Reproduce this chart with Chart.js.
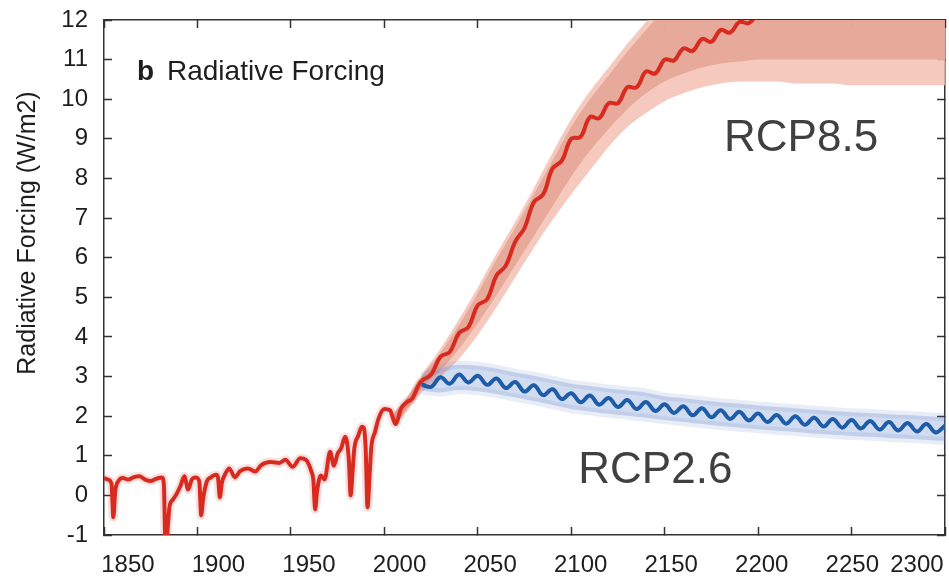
<!DOCTYPE html>
<html>
<head>
<meta charset="utf-8">
<title>Radiative Forcing</title>
<script src="https://cdn.jsdelivr.net/npm/chart.js@4/dist/chart.umd.min.js"></script>
<style>
  html, body { margin: 0; padding: 0; background: #fff; }
  canvas { display: block; }
</style>
</head>
<body>
<canvas id="forcing" width="949" height="580"></canvas>
<script>
// historical forcing, W/m2
var histYears = [1850, 1852, 1854, 1855, 1856, 1858, 1860, 1863, 1866, 1869, 1872, 1875, 1878, 1881, 1882, 1883, 1884, 1885, 1887, 1889,
  1891, 1893, 1895, 1897, 1899, 1901, 1902, 1903, 1905, 1907, 1910, 1911, 1912, 1913, 1915, 1917, 1920, 1923, 1927, 1931,
  1934, 1939, 1944, 1947, 1951, 1955, 1958, 1961, 1962, 1963, 1964, 1966, 1968, 1971, 1973, 1975, 1977, 1979, 1980, 1981,
  1982, 1983, 1984, 1986, 1988, 1989, 1990, 1991, 1992, 1993, 1995, 1997, 2000, 2003, 2006, 2009, 2012, 2015, 2018, 2020];
var histForcing = [0.44, 0.40, 0.30, -0.55, 0.10, 0.38, 0.44, 0.40, 0.46, 0.48, 0.40, 0.36, 0.42, 0.45, 0.30, -1.5, -0.9, -0.3, -0.1, 0.05,
  0.25, 0.48, 0.15, 0.40, 0.45, 0.35, -0.5, -0.1, 0.35, 0.45, 0.52, 0.45, -0.05, 0.30, 0.55, 0.68, 0.46, 0.62, 0.68, 0.60,
  0.76, 0.84, 0.82, 0.90, 0.72, 0.94, 0.90, 0.60, 0.40, -0.35, 0.10, 0.50, 0.40, 1.10, 0.75, 1.05, 1.20, 1.48, 1.35, 0.90,
  0.00, 0.60, 1.20, 1.50, 1.73, 1.70, 1.20, -0.30, 0.40, 1.20, 1.60, 1.95, 2.18, 2.15, 1.80, 2.20, 2.35, 2.45, 2.75, 2.90];

// scenario runs
var rcp85Years = [2020, 2025, 2030, 2035, 2040, 2045, 2050, 2055, 2060, 2065, 2070, 2075, 2080, 2085, 2090, 2095, 2100,
  2105, 2110, 2115, 2120, 2125, 2130, 2135, 2140, 2145, 2150, 2155, 2160, 2165, 2170, 2175, 2180, 2185, 2190, 2195, 2200,
  2210, 2220, 2250];
var rcp85 = [2.90, 3.05, 3.50, 3.62, 4.10, 4.25, 4.80, 4.95, 5.55, 5.80, 6.40, 6.75, 7.40, 7.60, 8.25, 8.45, 9.00,
  9.05, 9.55, 9.52, 9.90, 9.90, 10.30, 10.30, 10.70, 10.65, 11.00, 10.98, 11.28, 11.22, 11.52, 11.45, 11.75, 11.68, 11.95, 11.92, 12.15,
  12.35, 12.5, 12.7];

var rcp26Years = [2020, 2025, 2030, 2035, 2040, 2045, 2050, 2055, 2060, 2065, 2070, 2075, 2080, 2085, 2090, 2095, 2100,
  2105, 2110, 2115, 2120, 2125, 2130, 2135, 2140, 2145, 2150, 2155, 2160, 2165, 2170, 2175, 2180, 2185, 2190, 2195, 2200,
  2205, 2210, 2215, 2220, 2225, 2230, 2235, 2240, 2245, 2250, 2255, 2260, 2265, 2270, 2275, 2280, 2285, 2290, 2295, 2300];
var rcp26 = [2.80, 2.74, 2.98, 2.82, 3.05, 2.85, 3.02, 2.79, 2.95, 2.71, 2.86, 2.62, 2.78, 2.53, 2.68, 2.43, 2.58,
  2.35, 2.52, 2.29, 2.46, 2.23, 2.41, 2.18, 2.36, 2.13, 2.30, 2.08, 2.25, 2.02, 2.20, 1.97, 2.15, 1.93, 2.11, 1.89, 2.07,
  1.85, 2.03, 1.81, 2.00, 1.78, 1.96, 1.74, 1.93, 1.71, 1.90, 1.69, 1.88, 1.66, 1.85, 1.64, 1.83, 1.61, 1.80, 1.59, 1.76];

// ensemble spread
var spreadYears = [2005, 2010, 2020, 2030, 2040, 2050, 2060, 2070, 2080, 2090, 2100, 2110, 2120, 2130, 2140, 2150,
  2160, 2170, 2180, 2190, 2200, 2210, 2220, 2230, 2240, 2250, 2260, 2270, 2280, 2290, 2300];
var rcp85OuterHi = [2.1, 2.35, 3.05, 3.7, 4.45, 5.25, 6.1, 6.9, 7.75, 8.65, 9.5, 10.2, 10.8, 11.4, 11.95, 12.5,
  13, 13, 13, 13, 13, 13, 13, 13, 13, 13, 13, 13, 13, 13, 13];
var rcp85OuterLo = [1.8, 2.0, 2.6, 3.0, 3.45, 4.05, 4.75, 5.5, 6.25, 6.95, 7.6, 8.2, 8.8, 9.3, 9.65, 9.95,
  10.15, 10.3, 10.4, 10.45, 10.45, 10.45, 10.4, 10.4, 10.4, 10.35, 10.35, 10.35, 10.35, 10.35, 10.35];
var rcp85InnerHi = [2.05, 2.3, 3.0, 3.6, 4.3, 5.1, 5.95, 6.75, 7.6, 8.45, 9.3, 10.0, 10.6, 11.2, 11.75, 12.3,
  13, 13, 13, 13, 13, 13, 13, 13, 13, 13, 13, 13, 13, 13, 13];
var rcp85InnerLo = [1.85, 2.05, 2.7, 3.15, 3.7, 4.35, 5.05, 5.8, 6.55, 7.3, 8.05, 8.7, 9.25, 9.75, 10.15, 10.45,
  10.65, 10.8, 10.9, 10.95, 11.0, 11.0, 11.0, 11.0, 11.0, 11.0, 11.0, 11.0, 11.0, 11.0, 11.0];

var rcp26SpreadYears = [2020, 2030, 2040, 2050, 2060, 2070, 2080, 2090, 2100, 2110, 2120, 2130, 2140, 2150, 2160,
  2170, 2180, 2190, 2200, 2210, 2220, 2230, 2240, 2250, 2260, 2270, 2280, 2290, 2300];
var rcp26Hi = [3.0, 3.2, 3.3, 3.27, 3.2, 3.1, 3.02, 2.92, 2.82, 2.76, 2.7, 2.65, 2.6, 2.5, 2.45,
  2.4, 2.35, 2.31, 2.27, 2.23, 2.2, 2.16, 2.13, 2.1, 2.08, 2.05, 2.03, 2.0, 1.98];
var rcp26Lo = [2.65, 2.6, 2.66, 2.63, 2.56, 2.47, 2.38, 2.28, 2.18, 2.12, 2.06, 2.01, 1.96, 1.9, 1.85,
  1.8, 1.75, 1.71, 1.67, 1.63, 1.6, 1.56, 1.53, 1.5, 1.48, 1.45, 1.43, 1.4, 1.38];

var xTickYears = [1850, 1900, 1950, 2000, 2050, 2100, 2150, 2200, 2250, 2300];

var RED = '#d92a1f';
var BLUE = '#1d5ca8';
var FONT = '"Liberation Sans", Arial, Helvetica, sans-serif';

function pts(xs, ys) {
  return xs.map(function (x, i) { return { x: x, y: ys[i] }; });
}

function line(data, color, width, extra) {
  var ds = { data: data, borderColor: color, borderWidth: width, pointRadius: 0, fill: false,
    cubicInterpolationMode: 'monotone', clip: 0 };
  return Object.assign(ds, extra || {});
}

// text drawn inside the plot plus the rotated y title
var annotations = {
  id: 'annotations',
  afterDraw: function (chart) {
    var ctx = chart.ctx, x = chart.scales.x, y = chart.scales.y, area = chart.chartArea;
    ctx.save();
    ctx.fillStyle = '#1e1e1e';
    ctx.textBaseline = 'alphabetic';
    ctx.font = 'bold 28px ' + FONT;
    ctx.fillText('b', area.left + 33, 80);
    ctx.font = '28px ' + FONT;
    ctx.fillText('Radiative Forcing', area.left + 63, 80);

    ctx.fillStyle = '#404040';
    ctx.font = '44px ' + FONT;
    ctx.textAlign = 'center';
    ctx.textBaseline = 'middle';
    ctx.fillText('RCP8.5', x.getPixelForValue(2223), y.getPixelForValue(9.0));
    ctx.fillText('RCP2.6', x.getPixelForValue(2145), y.getPixelForValue(0.62));

    ctx.fillStyle = '#1e1e1e';
    ctx.font = '25px ' + FONT;
    ctx.translate(28, 233);
    ctx.rotate(-Math.PI / 2);
    ctx.fillText('Radiative Forcing (W/m2)', 0, 0);
    ctx.restore();
  }
};

var frame = { color: '#333', width: 1.5 };
var inTicks = { drawOnChartArea: false, tickLength: -8, tickWidth: 1.5, tickColor: '#333' };
var tickFont = { family: FONT, size: 24 };

// keep every axis box to a fixed size so the plot frame lands where it should
function fixBox(w, h) {
  return function (s) {
    if (w !== null) s.width = w;
    if (h !== null) s.height = h;
    s.paddingTop = s.paddingBottom = s.paddingLeft = s.paddingRight = 0;
  };
}

new Chart(document.getElementById('forcing'), {
  type: 'line',
  data: {
    datasets: [
      line(pts(rcp85Years, rcp85), RED, 4, { cubicInterpolationMode: 'default', tension: 0.4 }),
      line(pts(histYears, histForcing), RED, 4),
      line(pts(rcp26Years, rcp26), BLUE, 4, { cubicInterpolationMode: 'default', tension: 0.4 }),
      line(pts(histYears, histForcing), 'rgba(205,70,60,0.16)', 9),
      line(pts(rcp26SpreadYears, rcp26Hi), 'rgba(95,130,200,0.14)', 8, { fill: '+1', backgroundColor: 'rgba(95,130,200,0.28)' }),
      line(pts(rcp26SpreadYears, rcp26Lo), 'rgba(95,130,200,0.14)', 8),
      line(pts(spreadYears, rcp85InnerHi), 'rgba(0,0,0,0)', 0, { fill: '+1', backgroundColor: 'rgba(228,166,151,0.92)' }),
      line(pts(spreadYears, rcp85InnerLo), 'rgba(0,0,0,0)', 0),
      line(pts(spreadYears, rcp85OuterHi), 'rgba(0,0,0,0)', 0, { fill: '+1', backgroundColor: 'rgba(244,192,180,0.85)' }),
      line(pts(spreadYears, rcp85OuterLo), 'rgba(0,0,0,0)', 0)
    ]
  },
  options: {
    responsive: false,
    animation: false,
    layout: { padding: { top: 20, right: 4, left: 0, bottom: 0 } },
    plugins: { legend: { display: false }, tooltip: { enabled: false } },
    scales: {
      x: {
        type: 'linear', position: 'bottom', min: 1850, max: 2300,
        ticks: { display: false, stepSize: 50 },
        grid: inTicks, border: frame,
        afterFit: fixBox(null, 0)
      },
      xl: {
        type: 'linear', position: 'bottom', min: 1850, max: 2300,
        grid: { display: false }, border: { display: false },
        // labels sit a little right of their tick marks; the last one is kept inside the frame
        afterBuildTicks: function (s) {
          s.ticks = xTickYears.map(function (yr) {
            return { value: Math.min(1862.8 + (yr - 1850) * 0.969, 2285) };
          });
        },
        ticks: {
          autoSkip: false, maxRotation: 0, padding: 8, color: '#1e1e1e', font: tickFont,
          callback: function (v, i) { return String(xTickYears[i]); }
        },
        afterFit: fixBox(null, 45)
      },
      xt: {
        type: 'linear', position: 'top', min: 1850, max: 2300,
        ticks: { display: false, stepSize: 50 },
        grid: inTicks, border: frame,
        afterFit: fixBox(null, 0)
      },
      y: {
        min: -1, max: 12,
        ticks: { stepSize: 1, padding: 24, color: '#1e1e1e', font: tickFont },
        grid: inTicks, border: frame,
        afterFit: fixBox(104, null)
      },
      yr: {
        position: 'right', min: -1, max: 12,
        ticks: { display: false, stepSize: 1 },
        grid: inTicks, border: frame,
        afterFit: fixBox(0, null)
      }
    }
  },
  plugins: [annotations]
});
</script>
</body>
</html>
